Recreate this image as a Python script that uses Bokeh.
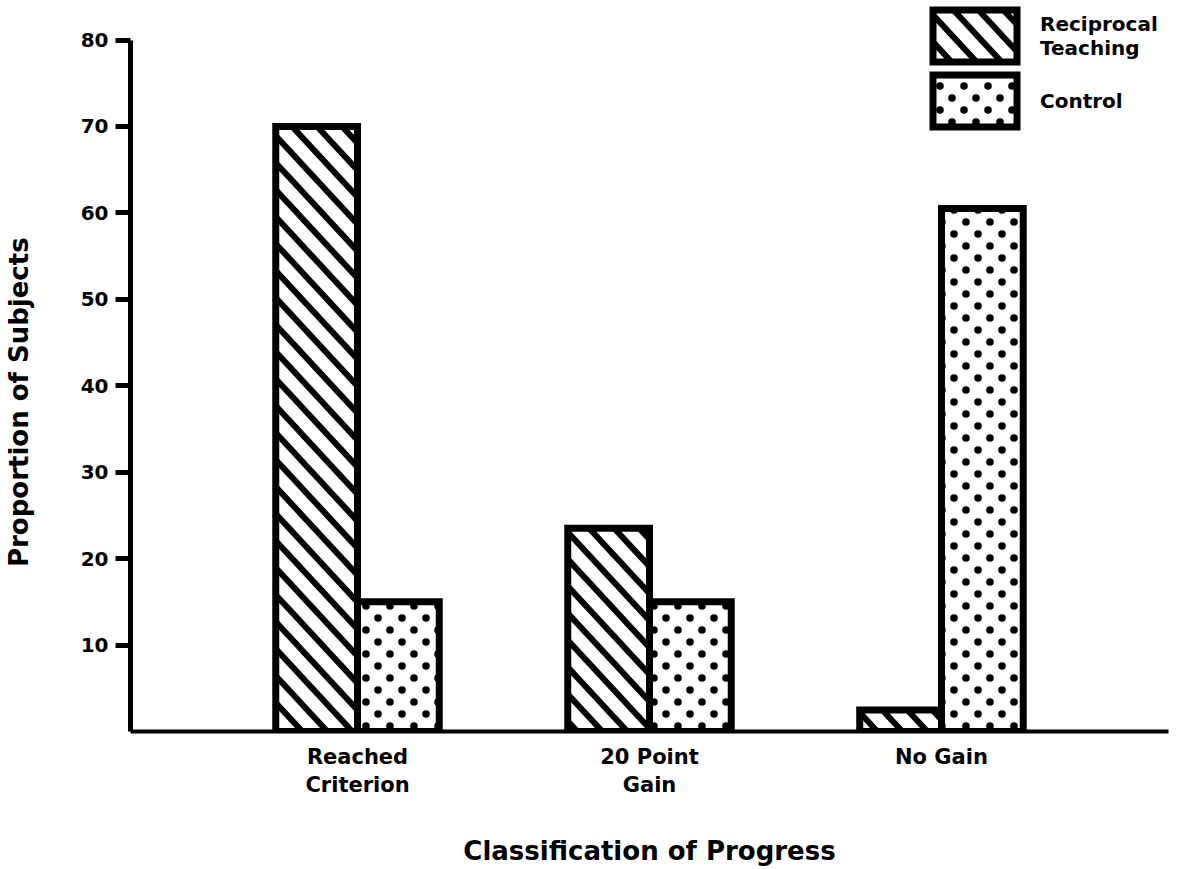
import base64
from bokeh.plotting import figure
from bokeh.models import (FactorRange, Range1d, FixedTicker, Legend, LegendItem,
                          ImageURLTexture, ColumnDataSource)
from bokeh.transform import dodge
from bokeh.core.properties import value
from bokeh.embed import file_html
from bokeh.resources import INLINE

categories = ["Reached\nCriterion", "20 Point\nGain", "No Gain"]
reciprocal = [70, 23.5, 2.5]
control = [15, 15, 60.5]
y_ticks = [10, 20, 30, 40, 50, 60, 70, 80]
series_names = ["Reciprocal\nTeaching", "Control"]
y_title = "Proportion of Subjects"
x_title = "Classification of Progress"

FONT = "DejaVu Sans"

src = ColumnDataSource(dict(cat=categories, rt=reciprocal, ctl=control))

p = figure(
    width=1183, height=869,
    x_range=FactorRange(*categories, range_padding=0.185, range_padding_units="percent"),
    y_range=Range1d(0, 84.57),
    output_backend="svg", toolbar_location=None,
    min_border_left=130, min_border_right=15, min_border_top=0, min_border_bottom=129,
)
p.outline_line_color = None
p.grid.grid_line_color = None
p.background_fill_color = "white"


def svg_texture(body, w, h):
    svg = (f"<svg xmlns='http://www.w3.org/2000/svg' width='{w}' height='{h}'>"
           f"{body}</svg>")
    url = "data:image/svg+xml;base64," + base64.b64encode(svg.encode()).decode()
    return ImageURLTexture(url=url, repetition="repeat")


stagger = svg_texture("<circle cx='6' cy='6' r='3.8' fill='black'/>"
                      "<circle cx='18' cy='18' r='3.8' fill='black'/>", 24, 24)
stripes = svg_texture("<path d='M-5,-5.4 L30,32.4 M-5,21.6 L5,32.4 M20,-5.4 L30,5.4' "
                      "stroke='black' stroke-width='6' fill='none'/>", 25, 27)

bw = 0.28
r1 = p.vbar(x=dodge("cat", -bw / 2, range=p.x_range), top="rt", width=bw, source=src,
            fill_color="white", line_color="black", line_width=7, line_join="miter",
            hatch_pattern=value("stripes"), hatch_extra={"stripes": stripes},
            hatch_color="black")
r2 = p.vbar(x=dodge("cat", bw / 2, range=p.x_range), top="ctl", width=bw, source=src,
            fill_color="white", line_color="black", line_width=7, line_join="miter",
            hatch_pattern=value("stagger"), hatch_extra={"stagger": stagger},
            hatch_color="black")

# axes
yax = p.yaxis[0]
yax.ticker = FixedTicker(ticks=y_ticks)
yax.bounds = (0, 80)
yax.axis_line_width = 5
yax.major_tick_line_width = 5
yax.major_tick_out = 15
yax.major_tick_in = 0
yax.minor_tick_line_color = None
yax.major_label_standoff = 7
yax.major_label_text_font = FONT
yax.major_label_text_font_style = "bold"
yax.major_label_text_font_size = "20px"
yax.major_label_text_color = "black"
# trailing no-break spaces move the visible title down to where the reference has it
yax.axis_label = y_title + "\u00a0" * 8
yax.axis_label_text_font = FONT
yax.axis_label_text_font_style = "bold"
yax.axis_label_text_font_size = "26px"
yax.axis_label_text_color = "black"
yax.axis_label_standoff = 44

xax = p.xaxis[0]
xax.axis_line_width = 4
xax.major_tick_line_color = None
xax.minor_tick_line_color = None
xax.major_label_standoff = 7
xax.major_label_text_font = FONT
xax.major_label_text_font_style = "bold"
xax.major_label_text_font_size = "21px"
xax.major_label_text_color = "black"
xax.axis_label = x_title
xax.axis_label_text_font = FONT
xax.axis_label_text_font_style = "bold"
xax.axis_label_text_font_size = "26px"
xax.axis_label_text_color = "black"
xax.axis_label_standoff = 36

legend = Legend(
    items=[LegendItem(label=series_names[0], renderers=[r1]),
           LegendItem(label=series_names[1], renderers=[r2])],
    location=(792, 598),
    glyph_width=105, glyph_height=65, spacing=0, label_standoff=13,
    padding=0, margin=0, border_line_alpha=0, background_fill_alpha=0,
    label_text_font=FONT, label_text_font_style="bold", label_text_font_size="20px",
    label_text_color="black", label_height=65,
)
p.add_layout(legend, "center")

open("out.html", "w").write(file_html(p, INLINE))
